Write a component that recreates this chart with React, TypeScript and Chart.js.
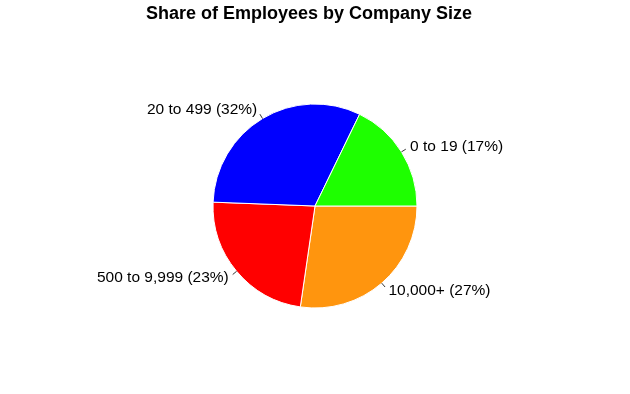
import React, { useEffect, useRef } from "react";
import { Chart, registerables } from "chart.js";

Chart.register(...registerables);

const TITLE = "Share of Employees by Company Size";
const categories = ["0 to 19", "20 to 499", "500 to 9,999", "10,000+"];
const shareValues = [17.8, 31.6, 23.3, 27.3];
const percentLabels = ["17%", "32%", "23%", "27%"];
const sliceColors = ["#1EFF00", "#0000FF", "#FF0000", "#FF950E"];

const FONT = "'Liberation Sans', Arial, Helvetica, sans-serif";

const labelPlugin = {
  id: "rPieLabels",
  afterDraw(chart: any) {
    const ctx = chart.ctx;
    const meta = chart.getDatasetMeta(0);
    const labels: string[] = chart.data.labels;
    ctx.save();
    // title
    ctx.fillStyle = "#000";
    ctx.font = `bold 18px ${FONT}`;
    ctx.textAlign = "center";
    ctx.textBaseline = "alphabetic";
    ctx.fillText(TITLE, 309, 19);
    ctx.font = `15.5px ${FONT}`;
    ctx.textBaseline = "middle";
    ctx.strokeStyle = "#000";
    ctx.lineWidth = 0.8;
    meta.data.forEach((arc: any, i: number) => {
      const { x, y, startAngle, endAngle, outerRadius } = arc.getProps(
        ["x", "y", "startAngle", "endAngle", "outerRadius"],
        true
      );
      const a = (startAngle + endAngle) / 2;
      const c = Math.cos(a);
      const s = Math.sin(a);
      const r = outerRadius;
      ctx.beginPath();
      ctx.moveTo(x + c * r, y + s * r);
      ctx.lineTo(x + c * r * 1.05, y + s * r * 1.05);
      ctx.stroke();
      ctx.textAlign = c >= 0 ? "left" : "right";
      ctx.fillText(labels[i], x + c * r * 1.1, y + s * r * 1.1);
    });
    ctx.restore();
  },
};

export default function App() {
  const ref = useRef<HTMLCanvasElement | null>(null);
  useEffect(() => {
    if (!ref.current) return;
    // R-style pie: start at 3 o'clock, counter-clockwise -> reverse for Chart.js clockwise
    const order = categories.map((_, i) => i).reverse();
    const chart = new Chart(ref.current, {
      type: "pie",
      data: {
        labels: order.map((i) => `${categories[i]} (${percentLabels[i]})`),
        datasets: [
          {
            data: order.map((i) => shareValues[i]),
            backgroundColor: order.map((i) => sliceColors[i]),
            borderColor: "#FFFFFF",
            borderWidth: 1,
            radius: 102,
          } as any,
        ],
      },
      options: {
        animation: false,
        responsive: false,
        rotation: 90,
        layout: { padding: { top: 104, bottom: 86, left: 100, right: 100 } },
        plugins: {
          legend: { display: false },
          title: { display: false },
          tooltip: { enabled: false },
        },
      },
      plugins: [labelPlugin],
    });
    return () => chart.destroy();
  }, []);
  return (
    <div style={{ position: "fixed", left: 0, top: 0, width: 630, height: 394, background: "#fff" }}>
      <canvas ref={ref} width={630} height={394} style={{ width: 630, height: 394 }} />
    </div>
  );
}
